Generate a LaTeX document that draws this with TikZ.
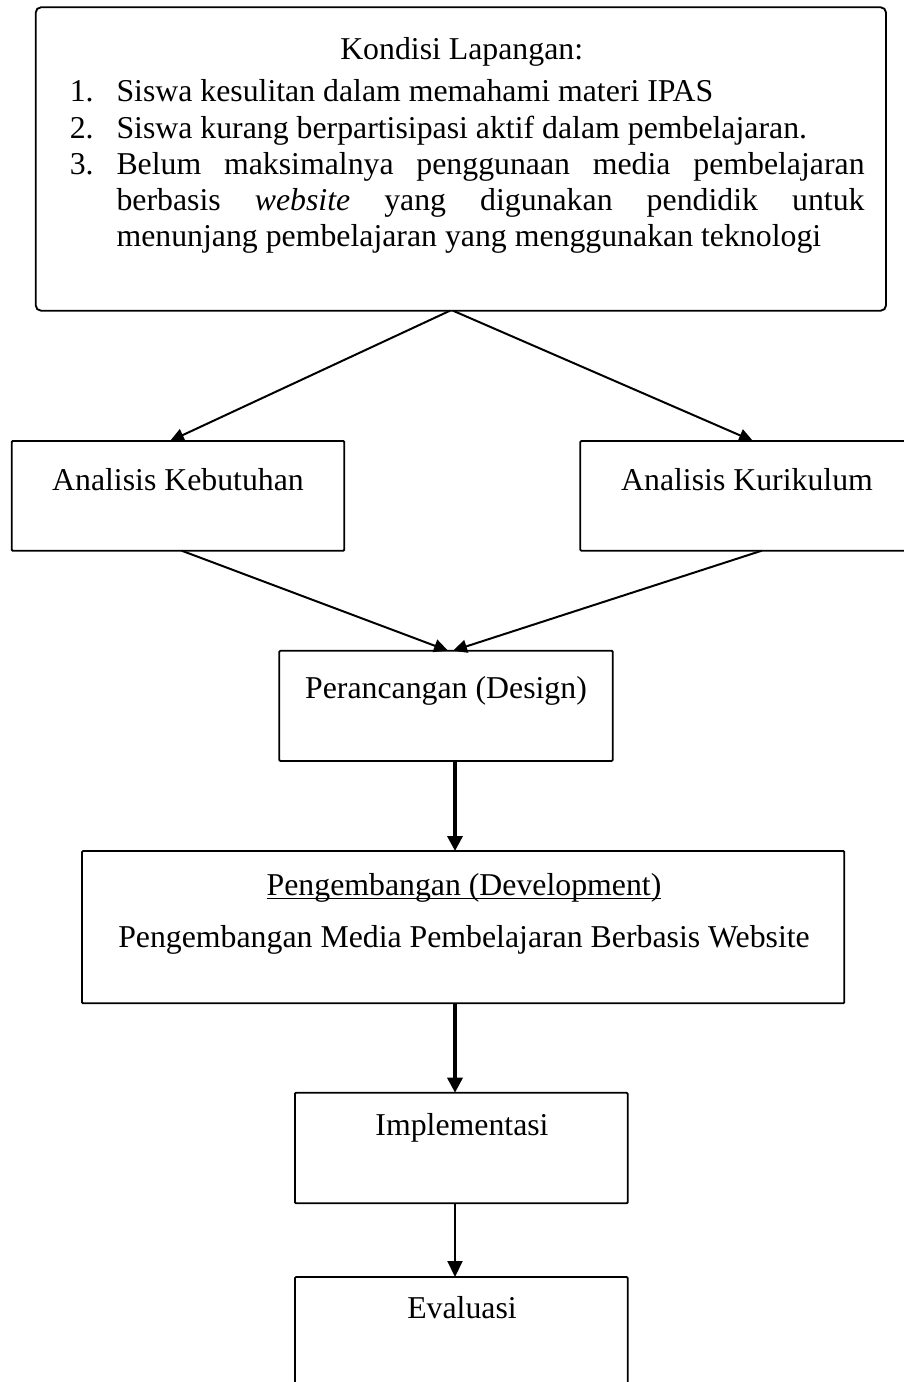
\documentclass[tikz,border=0pt]{standalone}
\usepackage{fontspec}
\setmainfont{Liberation Serif}
\usetikzlibrary{arrows.meta}
\newlength\pxlen
\setlength\pxlen{0.3774pt}
\def\px{*0.3774pt}
\newcommand\myul[1]{\setbox0\hbox{#1}\rlap{\rule[-4.2\pxlen]{\wd0}{0.45pt}}\box0}
\tikzset{
  box/.style={draw, line width=0.7pt, inner sep=0pt, outer sep=0pt, rounded corners=0.4pt},
  txt/.style={inner sep=0pt, anchor=base, font=\fontsize{12}{14}\selectfont},
  ltxt/.style={inner sep=0pt, anchor=base west, font=\fontsize{12}{14}\selectfont},
  thinarrow/.style={line width=0.75pt, -{Triangle[length=14\px, width=13\px]}},
  thickarrow/.style={line width=1.3pt, -{Triangle[length=15\px, width=15\px]}},
}
\begin{document}
\begin{tikzpicture}[x=0.3774pt, y=-0.3774pt]
\useasboundingbox (0,0) rectangle (903,1382);
% boxes
\node[box, rounded corners=2pt, minimum width=850.3\px, minimum height=303.4\px] (top) at (460.85,159) {};
\node[box, minimum width=332.6\px, minimum height=109.7\px] (ak) at (178,495.85) {};
\node[box, minimum width=332.6\px, minimum height=109.7\px] (akur) at (746.6,495.85) {};
\node[box, minimum width=333.4\px, minimum height=110.3\px] (design) at (446,705.85) {};
\node[box, minimum width=762.3\px, minimum height=152.3\px] (dev) at (463.15,927.15) {};
\node[box, minimum width=332.7\px, minimum height=110.6\px] (imp) at (461.35,1148) {};
\node[box, minimum width=332.7\px, minimum height=110.6\px] (eval) at (461.35,1332.3) {};
% texts of the top box
\node[txt] (t0) at (461.7,60) {Kondisi Lapangan:};
\node[ltxt] (n1) at (69.3,101.7) {1.};
\node[ltxt] (l1) at (116,101.7) {Siswa kesulitan dalam memahami materi IPAS};
\node[ltxt] (n2) at (69.3,138.7) {2.};
\node[ltxt] (l2) at (116,138.7) {Siswa kurang berpartisipasi aktif dalam pembelajaran.};
\node[ltxt] (n3) at (69.3,175) {3.};
\node[ltxt] (l3) at (116,175) {\makebox[748\pxlen][s]{Belum maksimalnya penggunaan media pembelajaran}};
\node[ltxt] (l4) at (116,211) {\makebox[748\pxlen][s]{berbasis \textit{website} yang digunakan pendidik untuk}};
\node[ltxt] (l5) at (116,247) {menunjang pembelajaran yang menggunakan teknologi};
% other texts
\node[txt] (tak) at (178,490) {Analisis Kebutuhan};
\node[txt] (takur) at (747,490) {Analisis Kurikulum};
\node[txt] (tdesign) at (446,698) {Perancangan (Design)};
\node[txt] (tdev1) at (464,895) {\myul{Pengembangan (Development)}};
\node[txt] (tdev2) at (464,947) {Pengembangan Media Pembelajaran Berbasis Website};
\node[txt] (timp) at (462,1135) {Implementasi};
\node[txt] (teval) at (462,1318) {Evaluasi};
% x positions of connector ends
\coordinate (xA) at (450,0);
\coordinate (xB) at (453,0);
\coordinate (xC) at (170,0);
\coordinate (xD) at (753,0);
\coordinate (xE) at (181.7,0);
\coordinate (xF) at (448,0);
\coordinate (xG) at (761.7,0);
\coordinate (xM) at (455,0);
% connectors
\draw[thinarrow] (top.south -| xA) -- (ak.north -| xC);
\draw[thinarrow] (top.south -| xB) -- (akur.north -| xD);
\draw[thinarrow] (ak.south -| xE) -- (design.north -| xF);
\draw[thinarrow] (akur.south -| xG) -- (design.north -| xB);
\draw[thickarrow] (design.south -| xM) -- (dev.north -| xM);
\draw[thickarrow] (dev.south -| xM) -- (imp.north -| xM);
\draw[thinarrow, -{Triangle[length=16\px, width=15\px]}] (imp.south -| xM) -- (eval.north -| xM);
\end{tikzpicture}
\end{document}
